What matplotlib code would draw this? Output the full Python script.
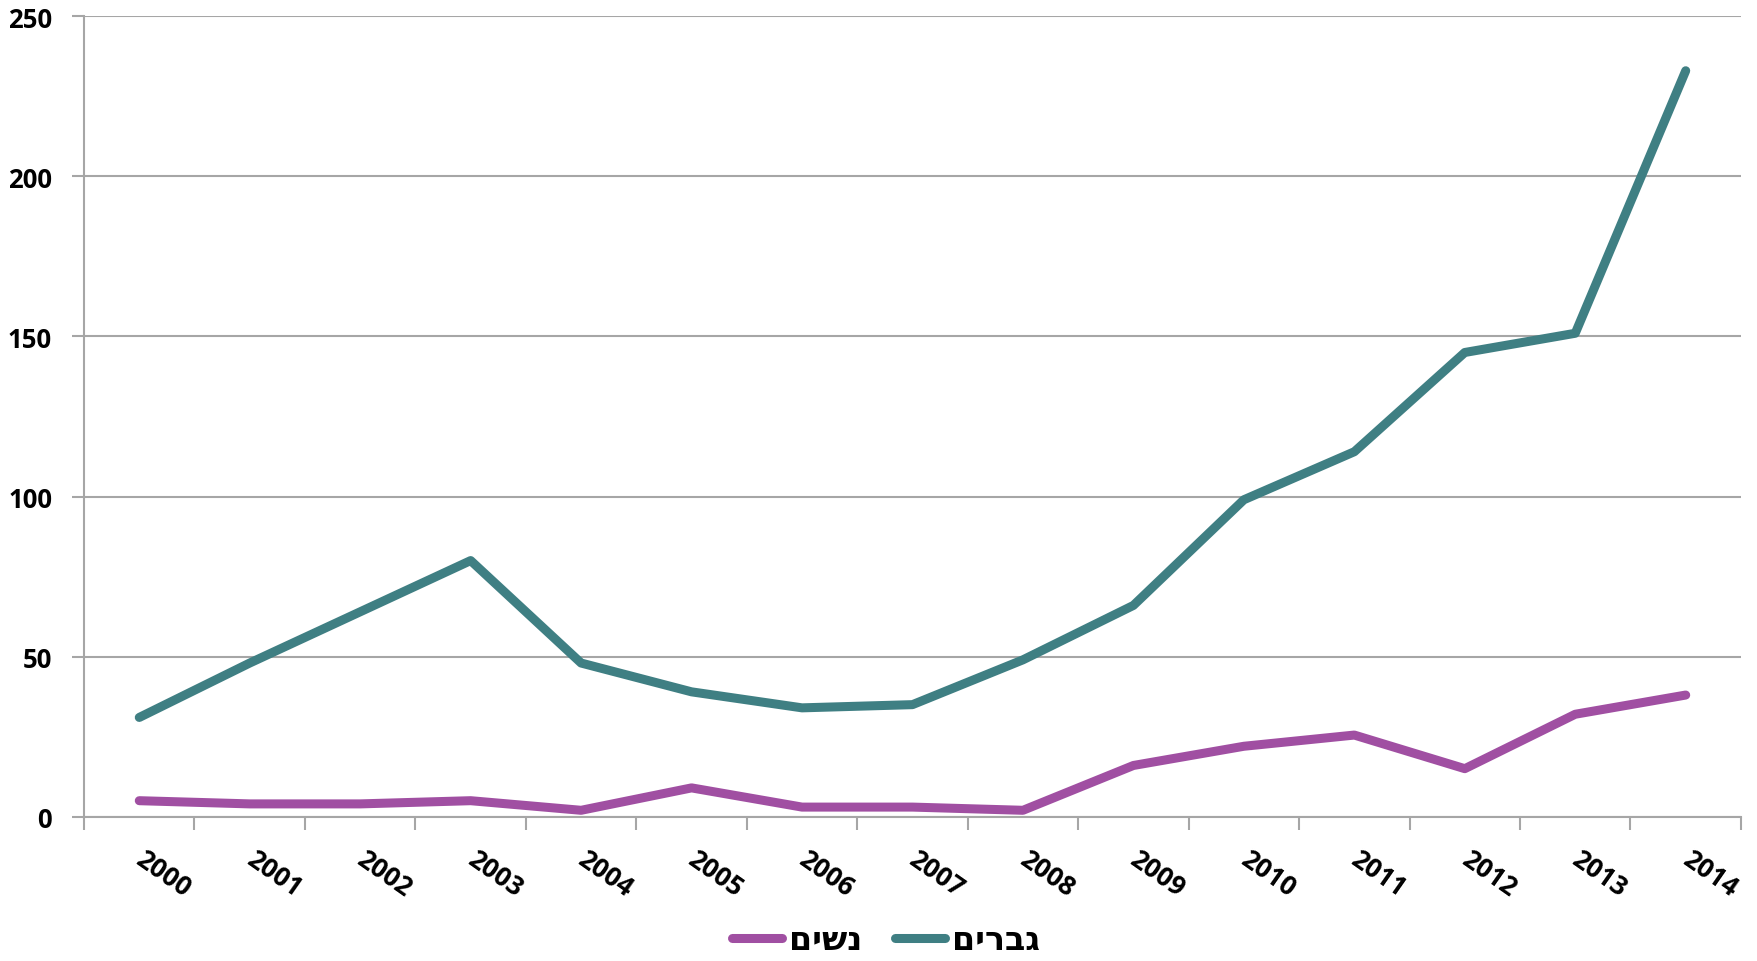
import matplotlib.pyplot as plt
import matplotlib.transforms as mtransforms
import numpy as np

# data
years = ['2000', '2001', '2002', '2003', '2004', '2005', '2006', '2007',
         '2008', '2009', '2010', '2011', '2012', '2013', '2014']
men = [31, 48, 64, 80, 48, 39, 34, 35, 49, 66, 99, 114, 145, 151, 233]
women = [5, 4, 4, 5, 2, 9, 3, 3, 2, 16, 22, 25.5, 15, 32, 38]
# hebrew labels, stored in visual order since matplotlib has no bidi
label_women = 'נשים'[::-1]
label_men = 'גברים'[::-1]

col_men = '#3F7F83'
col_women = '#A04FA2'
grid_col = '#A6A6A6'

fig = plt.figure(figsize=(17.58, 9.62), dpi=100)
ax = fig.add_axes([0.0478, 0.150, 0.9425, 0.832])

x = np.arange(len(years))
ax.plot(x, women, color=col_women, lw=6.5, solid_capstyle='round', solid_joinstyle='round', label=label_women)
ax.plot(x, men, color=col_men, lw=6.5, solid_capstyle='round', solid_joinstyle='round', label=label_men)

ax.set_xlim(-0.5, len(years) - 0.5)
ax.set_ylim(0, 250)
ax.set_yticks([0, 50, 100, 150, 200, 250])
ax.yaxis.grid(True, color=grid_col, lw=1.5)
ax.set_axisbelow(True)

ax.set_xticks(x)
ax.set_xticklabels(years, rotation=-35, ha='left', va='top', rotation_mode='anchor',
                   fontsize=19, fontweight='bold', family='Open Sans')
ax.set_xticks(np.arange(-0.5, len(years)), minor=True)
ax.tick_params(axis='x', which='major', length=0, pad=20)
ax.tick_params(axis='x', which='minor', length=9, width=1.5, color=grid_col)
ax.tick_params(axis='y', length=9, width=1.5, color=grid_col, pad=14)
for t in ax.get_yticklabels():
    t.set_fontsize(18.5)
    t.set_fontweight('bold')
    t.set_family('Open Sans')
# nudge year labels a little to the right
shift = mtransforms.ScaledTranslation(7 / 100, 0, fig.dpi_scale_trans)
for t in ax.get_xticklabels():
    t.set_transform(t.get_transform() + shift)

for s in ['top', 'right']:
    ax.spines[s].set_visible(False)
for s in ['left', 'bottom']:
    ax.spines[s].set_color(grid_col)
    ax.spines[s].set_linewidth(1.5)

fig.legend(loc='center', bbox_to_anchor=(0.504, 0.022), ncol=2, frameon=False,
           prop={'family': 'DejaVu Sans', 'weight': 'bold', 'size': 24},
           handlelength=1.5, handletextpad=0.2, columnspacing=1.0)

fig.savefig('out.png', dpi=100)
